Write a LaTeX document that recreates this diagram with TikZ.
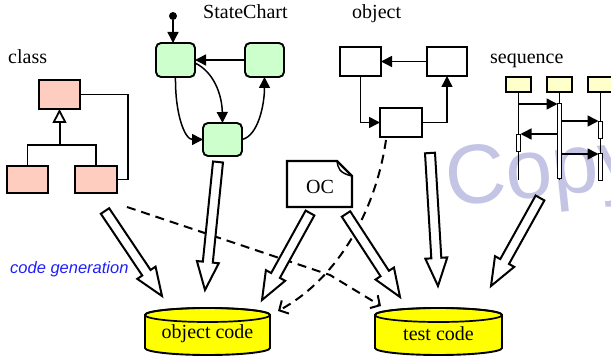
\documentclass[tikz,border=0pt]{standalone}
\usepackage{fontspec}
\setmainfont{Liberation Serif}
\newfontfamily\arialfont{Liberation Sans}
\usetikzlibrary{arrows.meta,calc}
\definecolor{classpink}{HTML}{FFCCC0}
\definecolor{stategreen}{HTML}{CCFFCC}
\definecolor{seqyellow}{HTML}{FFFFCC}
\definecolor{cylyellow}{HTML}{FFFF00}
\definecolor{wmark}{HTML}{C4C4E4}
\definecolor{genblue}{HTML}{1E1EFF}
\newcommand\blockarrow[3]{% #1 start, #2 tip, #3 name
  \coordinate (#3h) at ($(#2)!28pt!(#1)$);
  \draw[blockarr] ($(#1)!5pt!90:(#2)$) -- ($(#3h)!5pt!90:(#2)$) -- ($(#3h)!11pt!90:(#2)$)
    -- (#2) -- ($(#3h)!11pt!-90:(#2)$) -- ($(#3h)!5pt!-90:(#2)$) -- ($(#1)!5pt!-90:(#2)$) -- cycle;}
\tikzset{
  lbl/.style={font=\fontsize{20}{24}\selectfont, inner sep=0pt, anchor=base west},
  classbox/.style={draw, fill=classpink, line width=1.2pt, inner sep=0pt, outer sep=0pt},
  statebox/.style={draw, fill=stategreen, line width=1.9pt, rounded corners=5pt, inner sep=0pt, outer sep=0pt, minimum width=39pt, minimum height=34pt},
  objbox/.style={draw, fill=white, line width=1.4pt, inner sep=0pt, outer sep=0pt, minimum height=29pt},
  headbox/.style={draw, fill=seqyellow, line width=1.4pt, inner sep=0pt, outer sep=0pt, minimum width=25pt, minimum height=15pt},
  actbar/.style={draw, fill=white, line width=0.9pt},
  lifeline/.style={line width=1.3pt},
  conn/.style={line width=1.5pt, -{Triangle[length=11pt,width=11pt]}},
  blockarr/.style={draw, fill=white, line width=2pt, line join=miter},
  dasharr/.style={line width=2pt, dash pattern=on 9pt off 6pt, -{Straight Barb[length=7pt,width=15pt,line width=2pt]}},
  cyl/.style={draw, fill=cylyellow, line width=1.9pt},
}
\begin{document}
\begin{tikzpicture}[x=1pt,y=-1pt]
\useasboundingbox (0,0) rectangle (611,358);
\begin{scope}
\clip (0,0) rectangle (611,358);
\node[font=\arialfont\fontsize{84}{90}\selectfont, text=wmark, anchor=base west, inner sep=0pt, rotate=6] (wm) at (448,207) {Copy};
\end{scope}

% ---------- class ----------
\node[lbl] (tclass) at (8,64) {class};
\node[classbox, minimum width=41pt, minimum height=29pt] (c1) at (59.5,94.5) {};
\node[classbox, minimum width=41pt, minimum height=27pt] (c2) at (27.5,179.5) {};
\node[classbox, minimum width=42pt, minimum height=27pt] (c3) at (96,179.5) {};
\coordinate (cj) at (59.5,145);
\coordinate (ca) at (128,94.5);
\draw[line width=1.2pt] (c2.north) |- (cj) -| (c3.north);
\draw[line width=2pt, -{Triangle[open,length=14pt,width=14pt,line width=1.8pt]}] (cj) -- (c1.south);
\draw[line width=1.2pt] (c1.east) -- (ca) |- (c3.east);

% ---------- statechart ----------
\node[lbl] (tstate) at (203,19) {StateChart};
\node[statebox] (s1) at (175.5,60) {};
\node[statebox] (s2) at (264.5,60) {};
\node[statebox, minimum height=33pt] (s3) at (222.5,139.5) {};
\node[circle, fill, inner sep=0pt, minimum size=8pt] (dot) at (173,16) {};
\draw[conn] (dot) -- (dot |- s1.north);
\draw[conn] (s2.west) -- (s1.east);
\draw[conn] ($(s1.east)+(0,3)$) .. controls (214,72) and (222,95) .. (s3.north);
\draw[conn] (s1.south) .. controls (175,115) and (185,139.5) .. (s3.west);
\draw[conn] (s3.east) .. controls (258,136) and (264.5,105) .. (s2.south);

% ---------- object ----------
\node[lbl] (tobj) at (352,19) {object};
\node[objbox, minimum width=41pt] (o1) at (360.5,61.5) {};
\node[objbox, minimum width=40pt] (o2) at (447,61.5) {};
\node[objbox, minimum width=42pt] (o3) at (401,122.5) {};
\draw[conn] (o2.west) -- (o1.east);
\draw[conn] (o1.south) |- (o3.west);
\draw[conn] (o3.east) -| (o2.south);

% ---------- sequence ----------
\node[lbl] (tseq) at (490,64) {sequence};
\node[headbox] (h1) at (518.5,84.5) {};
\node[headbox] (h2) at (559.5,84.5) {};
\node[headbox] (h3) at (600.5,84.5) {};
\coordinate (e1) at (518.5,180);
\coordinate (e2) at (559.5,180);
\coordinate (e3) at (600.5,180);
\draw[lifeline] (h1.south) -- (e1);
\draw[lifeline] (h2.south) -- (e2);
\draw[lifeline] (h3.south) -- (e3);
\draw[actbar] (557.5,103) rectangle (561.5,178);
\draw[actbar] (516.5,134) rectangle (520.5,151);
\draw[actbar] (598.5,121) rectangle (602.5,138);
\draw[actbar] (598.5,153) rectangle (602.5,180);
\coordinate (m1a) at (518.5,104); \coordinate (m1b) at (557.5,104);
\coordinate (m2a) at (561.5,121); \coordinate (m2b) at (598.5,121);
\coordinate (m3a) at (557.5,134); \coordinate (m3b) at (520.5,134);
\coordinate (m4a) at (561.5,154); \coordinate (m4b) at (598.5,154);
\draw[conn] (m1a) -- (m1b);
\draw[conn] (m2a) -- (m2b);
\draw[conn] (m3a) -- (m3b);
\draw[conn] (m4a) -- (m4b);

% ---------- OC note ----------
\draw[line width=2.2pt, fill=white, line join=miter] (287,161) -- (337,161) -- (352,176) -- (352,207) -- (287,207) -- cycle;
\draw[line width=1.5pt] (337,161) .. controls (338,168) and (339,173) .. (352,176);
\node[font=\fontsize{20}{24}\selectfont, inner sep=0pt] (oc) at (320,187) {OC};

% ---------- cylinders ----------
\path[cyl] (145,315) -- (145,348) arc[start angle=180, end angle=360, x radius=62.5pt, y radius=7pt]
  -- (270,315) arc[start angle=0, end angle=180, x radius=62.5pt, y radius=7pt] -- cycle;
\draw[line width=1.7pt] (207.5,315) ellipse [x radius=62.5pt, y radius=7pt];
\node[font=\fontsize{20}{24}\selectfont, inner sep=0pt] (objcode) at (207.5,334) {object code};
\path[cyl] (375,315) -- (375,348) arc[start angle=180, end angle=360, x radius=63.5pt, y radius=7pt]
  -- (502,315) arc[start angle=0, end angle=180, x radius=63.5pt, y radius=7pt] -- cycle;
\draw[line width=1.7pt] (438.5,315) ellipse [x radius=63.5pt, y radius=7pt];
\node[font=\fontsize{20}{24}\selectfont, inner sep=0pt] (testcode) at (438.5,334) {test code};

% ---------- code generation label ----------
\node[font=\arialfont\itshape\fontsize{16.5}{20}\selectfont, text=genblue, anchor=base west, inner sep=0pt] (cg) at (10,274) {code generation};

% ---------- dashed connectors ----------
\coordinate (da) at (127,207);
\coordinate (db) at (330,275);
\coordinate (dc) at (381,306);
\draw[dasharr] (da) -- (db) -- (dc);
\coordinate (dd) at (386,140);
\coordinate (de) at (278,311);
\draw[dasharr] (dd) .. controls (375,215) and (335,280) .. (de);

% ---------- block arrows ----------
\coordinate (b1s) at (105,211); \coordinate (b1t) at (162,296);
\coordinate (b2s) at (218,162); \coordinate (b2t) at (205,290);
\coordinate (b3s) at (310,213); \coordinate (b3t) at (262,300);
\coordinate (b4s) at (346,214); \coordinate (b4t) at (400,297);
\coordinate (b5s) at (430,153); \coordinate (b5t) at (438,286);
\coordinate (b6s) at (540,198); \coordinate (b6t) at (491,286);
\blockarrow{b1s}{b1t}{ba1}
\blockarrow{b2s}{b2t}{ba2}
\blockarrow{b3s}{b3t}{ba3}
\blockarrow{b4s}{b4t}{ba4}
\blockarrow{b5s}{b5t}{ba5}
\blockarrow{b6s}{b6t}{ba6}
\end{tikzpicture}
\end{document}
